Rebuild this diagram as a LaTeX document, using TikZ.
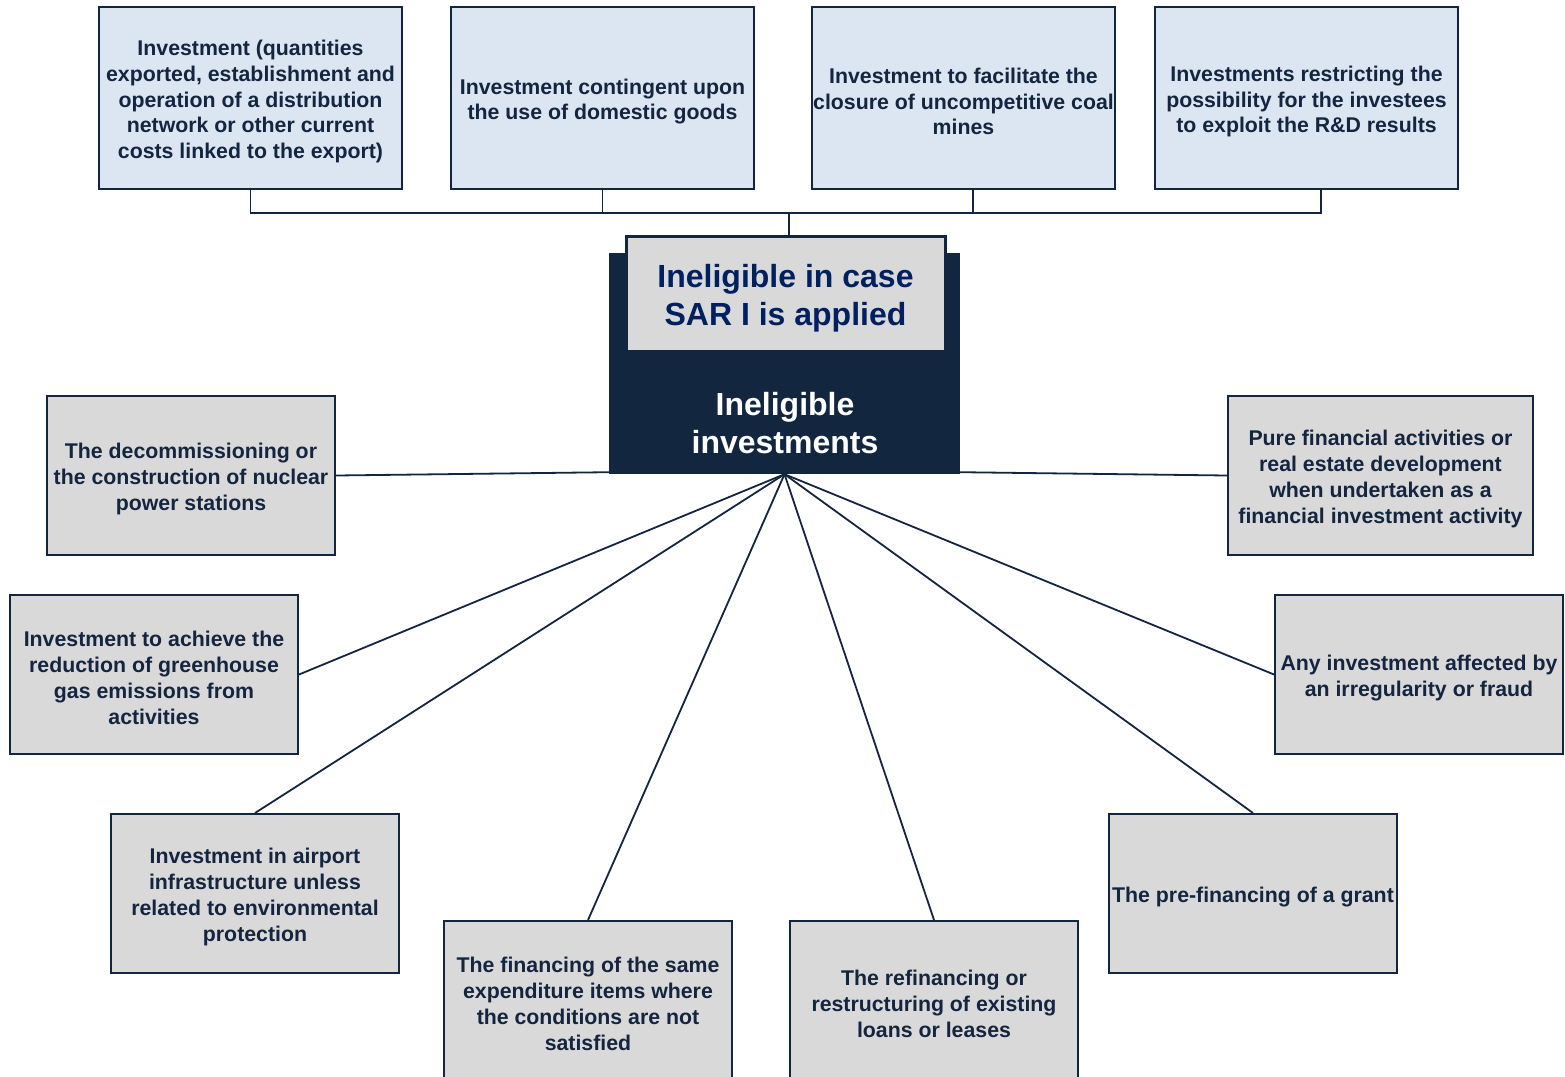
\documentclass[tikz,border=0pt]{standalone}
\usepackage{fontspec}
\setmainfont{Liberation Sans}
\definecolor{navy}{RGB}{20,37,64}
\definecolor{darkbox}{RGB}{19,38,64}
\definecolor{topfill}{RGB}{220,230,242}
\definecolor{greyfill}{RGB}{217,217,217}
\definecolor{titleblue}{RGB}{0,32,96}
\begin{document}
\begin{tikzpicture}[x=1pt,y=-1pt,
  boxtext/.style={align=center, inner sep=0pt, text=navy, yshift=-3.5pt,
    font=\fontsize{21.3}{25.8}\selectfont\bfseries},
  basebox/.style={draw=navy, line width=2pt, inner sep=0pt},
  topbox/.style={basebox, fill=topfill, minimum width=303pt, minimum height=182pt},
  greybox/.style={basebox, fill=greyfill, minimum width=288pt, minimum height=159pt},
  conn/.style={draw=navy, line width=1.8pt}]
\useasboundingbox (0,0) rectangle (1565,1076);
\clip (0,0) rectangle (1565,1076);
\fill[white] (0,0) rectangle (1565,1076);

% top row
\node[topbox, label={[boxtext]center:{Investment (quantities\\exported, establishment and\\operation of a distribution\\network or other current\\costs linked to the export)}}] (t1) at (250.5,98) {};
\node[topbox, label={[boxtext]center:{Investment contingent upon\\the use of domestic goods}}] (t2) at (602.5,98) {};
\node[topbox, label={[boxtext]center:{Investment to facilitate the\\closure of uncompetitive coal\\mines}}] (t3) at (963.5,98) {};
\node[topbox, label={[boxtext]center:{Investments restricting the\\possibility for the investees\\to exploit the R\&D results}}] (t4) at (1306.5,98) {};

% centre
\node[fill=darkbox, minimum width=351pt, minimum height=221pt, inner sep=0pt] (main) at (784.5,363.5) {};
\node[draw=darkbox, line width=3pt, fill=greyfill, minimum width=319pt, minimum height=115pt, inner sep=0pt,
  label={[align=center, inner sep=0pt, text=titleblue, yshift=-4.5pt, font=\fontsize{32}{38}\selectfont\bfseries]center:{Ineligible in case\\SAR I is applied}}] (title) at (785.5,293.5) {};
\node[align=center, text=white, inner sep=0pt, font=\fontsize{32}{38}\selectfont\bfseries] (mainlbl) at (785,423) {Ineligible\\investments};

% bracket
\coordinate (bus) at (789,213);
\draw[conn] (t1.south) |- (bus);
\draw[conn] ([xshift=14.5pt]t4.south) |- (bus);
\draw[conn] (t2.south) -- (t2.south |- bus);
\draw[conn] ([xshift=9.5pt]t3.south) -- ([xshift=9.5pt]t3.south |- bus);
\draw[conn] (bus) -- (bus |- title.north);

% grey boxes
\node[greybox, label={[boxtext]center:{The decommissioning or\\the construction of nuclear\\power stations}}] (l1) at (191,475.5) {};
\node[greybox, label={[boxtext]center:{Investment to achieve the\\reduction of greenhouse\\gas emissions from\\activities}}] (l2) at (154,674.5) {};
\node[greybox, label={[boxtext]center:{Investment in airport\\infrastructure unless\\related to environmental\\protection}}] (l3) at (255,893.5) {};
\node[greybox, label={[boxtext]center:{The financing of the same\\expenditure items where\\the conditions are not\\satisfied}}] (b1) at (588,1000.5) {};
\node[greybox, label={[boxtext]center:{The refinancing or\\restructuring of existing\\loans or leases}}] (b2) at (934,1000.5) {};
\node[greybox, label={[boxtext]center:{The pre-financing of a grant}}] (r3) at (1253,893.5) {};
\node[greybox, label={[boxtext]center:{Any investment affected by\\an irregularity or fraud}}] (r2) at (1419,674.5) {};
\node[greybox, minimum width=305pt, label={[boxtext]center:{Pure financial activities or\\real estate development\\when undertaken as a\\financial investment activity}}] (r1) at (1380.5,475.5) {};

% connectors
\draw[conn] (l1.east) -- ([yshift=2pt]main.south west);
\draw[conn] (r1.west) -- ([yshift=2pt]main.south east);
\draw[conn] (l2.east) -- (main.south);
\draw[conn] (l3.north) -- (main.south);
\draw[conn] (b1.north) -- (main.south);
\draw[conn] (b2.north) -- (main.south);
\draw[conn] (r3.north) -- (main.south);
\draw[conn] (r2.west) -- (main.south);
\end{tikzpicture}
\end{document}
